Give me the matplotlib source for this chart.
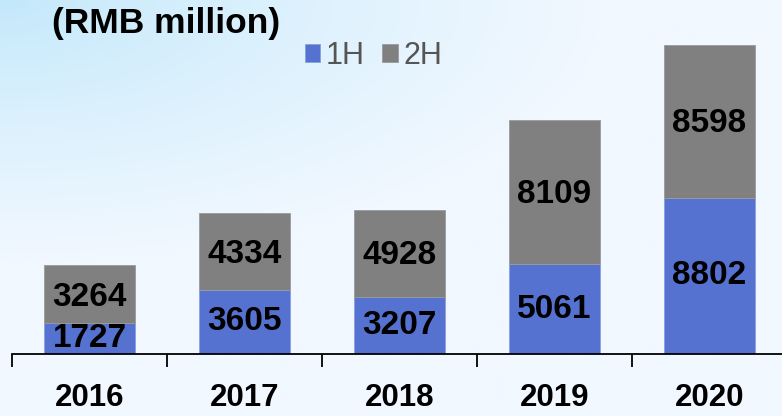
import matplotlib
matplotlib.use("Agg")
import matplotlib.pyplot as plt
import numpy as np

years = ["2016", "2017", "2018", "2019", "2020"]
h1 = [1727, 3605, 3207, 5061, 8802]
h2 = [3264, 4334, 4928, 8109, 8598]
series_names = ["1H", "2H"]
title_text = "(RMB million)"

blue = "#5572D1"
gray = "#808080"

W, H = 782, 416
fig = plt.figure(figsize=(W / 100, H / 100), dpi=100)

# background gradient
bg = fig.add_axes([0, 0, 1, 1], zorder=-10)
yy, xx = np.mgrid[0:1:200j, 0:1:400j]
d = np.sqrt((xx * 1.3) ** 2 + (yy * 1.6) ** 2)
t = np.clip(d / 1.0, 0, 1) ** 0.8
c0 = np.array([0xc2, 0xe8, 0xfb]) / 255
c1 = np.array([0xf1, 0xf8, 0xff]) / 255
img = c0[None, None, :] * (1 - t[..., None]) + c1[None, None, :] * t[..., None]
bg.imshow(img, extent=[0, 1, 0, 1], aspect="auto", origin="upper")
bg.axis("off")

ax = fig.add_axes([12 / W, 62 / H, 775 / W, 354 / H])
ax.patch.set_alpha(0)
x = np.arange(len(years))
bw = 0.59
ax.bar(x, h1, bw, color=blue, edgecolor="#8aa0e0", linewidth=0.6, label=series_names[0])
ax.bar(x, h2, bw, bottom=h1, color=gray, edgecolor="#9a9a9a", linewidth=0.6, label=series_names[1])
ax.set_xlim(-0.5, 4.5)
ax.set_ylim(0, 19930)

fam = ["Liberation Sans", "DejaVu Sans"]
lab_font = dict(fontsize=24, fontweight="bold", family=fam, color="black")
for i in range(len(years)):
    ax.text(x[i], h1[i] / 2, str(h1[i]), ha="center", va="center", **lab_font)
    ax.text(x[i], h1[i] + h2[i] / 2 - 150, str(h2[i]), ha="center", va="center", **lab_font)

for s in ["top", "right", "left"]:
    ax.spines[s].set_visible(False)
ax.spines["bottom"].set_linewidth(1.3)
ax.set_yticks([])
ax.set_xticks(np.arange(-0.5, 4.6, 1.0))
ax.set_xticklabels([])
ax.tick_params(axis="x", length=9, width=1.3, direction="out")
for i, yr in enumerate(years):
    ax.text(x[i], -0.125, yr, transform=ax.get_xaxis_transform(), ha="center", va="center",
            fontsize=22.5, fontweight="bold", family=fam)

fig.text(52 / W, 1 - 24 / H, title_text, ha="left", va="center", fontsize=25.5, fontweight="bold",
         family=fam)

# legend
leg = fig.legend(*ax.get_legend_handles_labels(), loc="center left",
                 bbox_to_anchor=(277 / W, 1 - 56 / H), bbox_transform=fig.transFigure,
                 ncol=2, frameon=False,
                 handlelength=0.52, handleheight=0.5, handletextpad=0.18, columnspacing=0.56,
                 prop=dict(family=fam, size=22))
for txt in leg.get_texts():
    txt.set_color("#555555")

fig.savefig("out.png", dpi=100)
